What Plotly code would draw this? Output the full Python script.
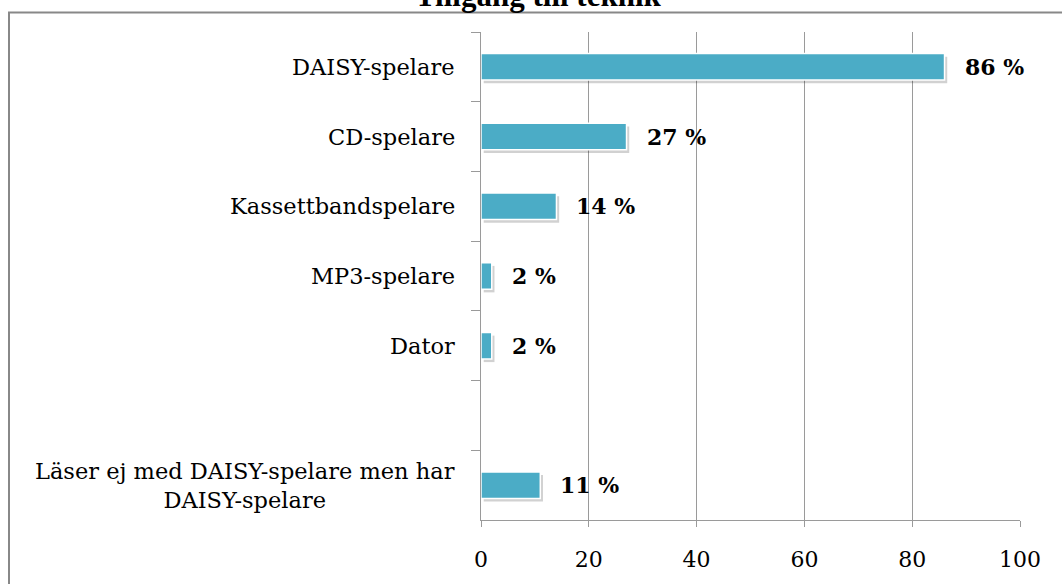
import plotly.graph_objects as go

# data
categories = ["DAISY-spelare", "CD-spelare", "Kassettbandspelare", "MP3-spelare",
              "Dator", " ", "Läser ej med DAISY-spelare men har<br>DAISY-spelare"]
values = [86, 27, 14, 2, 2, None, 11]
value_labels = ["86 %", "27 %", "14 %", "2 %", "2 %", "", "11 %"]
x_ticks = [0, 20, 40, 60, 80, 100]
title_text = "Tillgång till teknik"

bar_color = "#4BACC6"
grid_color = "#9a9a9a"
serif = "DejaVu Serif"
bw = 0.38

fig = go.Figure()

# soft shadow behind the bars
fig.add_trace(go.Bar(
    y=categories, x=values, base=0.5, orientation="h",
    width=bw, offset=-bw / 2 + 0.045,
    marker=dict(color="rgba(0,0,0,0.18)", line=dict(width=0)),
    hoverinfo="skip", showlegend=False,
))
fig.add_trace(go.Bar(
    y=categories, x=values, orientation="h",
    width=bw, offset=-bw / 2,
    marker=dict(color=bar_color, line=dict(color="white", width=1.5)),
    showlegend=False,
))

# value labels next to the bars
for cat, val, lab in zip(categories, values, value_labels):
    if val is None:
        continue
    fig.add_annotation(x=val, y=cat, xref="x", yref="y", text="<b>" + lab + "</b>",
                       showarrow=False, xanchor="left", yanchor="middle", xshift=18,
                       font=dict(family=serif, size=22, color="black"))

# category labels, centred like the original
for cat in categories:
    fig.add_annotation(x=0, y=cat, xref="paper", yref="y", text=cat,
                       showarrow=False, xanchor="right", yanchor="middle", xshift=-24,
                       align="center", font=dict(family=serif, size=22.5, color="black"))

# title, cut off by the top of the image
fig.add_annotation(x=0.1076, y=1.0750, xref="paper", yref="paper",
                   text="<b>" + title_text + "</b>", showarrow=False,
                   xanchor="center", yanchor="middle",
                   font=dict(family="Liberation Serif", size=31, color="black"))

# outer chart frame
fig.add_shape(type="rect", xref="paper", yref="paper",
              x0=-0.8757, x1=1.3, y0=-0.4, y1=1.0402,
              line=dict(color="#888888", width=2), fillcolor="rgba(0,0,0,0)", layer="below")

fig.update_layout(
    width=1062, height=584,
    margin=dict(l=481, r=42, t=32, b=55),
    paper_bgcolor="white", plot_bgcolor="white",
    barmode="overlay",
    font=dict(family=serif, size=22, color="black"),
)
fig.update_xaxes(
    range=[0, 100], tickvals=x_ticks, showgrid=True, gridcolor=grid_color, gridwidth=1,
    showline=True, linecolor=grid_color, linewidth=1,
    ticks="outside", ticklen=6, tickcolor=grid_color,
    ticklabelstandoff=14, zeroline=False,
    tickfont=dict(family=serif, size=22, color="black"),
)
fig.update_yaxes(
    categoryorder="array", categoryarray=categories, autorange="reversed",
    showticklabels=False, showline=True, linecolor=grid_color, linewidth=1,
    ticks="outside", ticklen=9, tickcolor=grid_color, tickson="boundaries",
    showgrid=False, zeroline=False,
)

fig.write_html("out.html", config={"displayModeBar": False},
               post_script="document.body.style.margin='0';")
